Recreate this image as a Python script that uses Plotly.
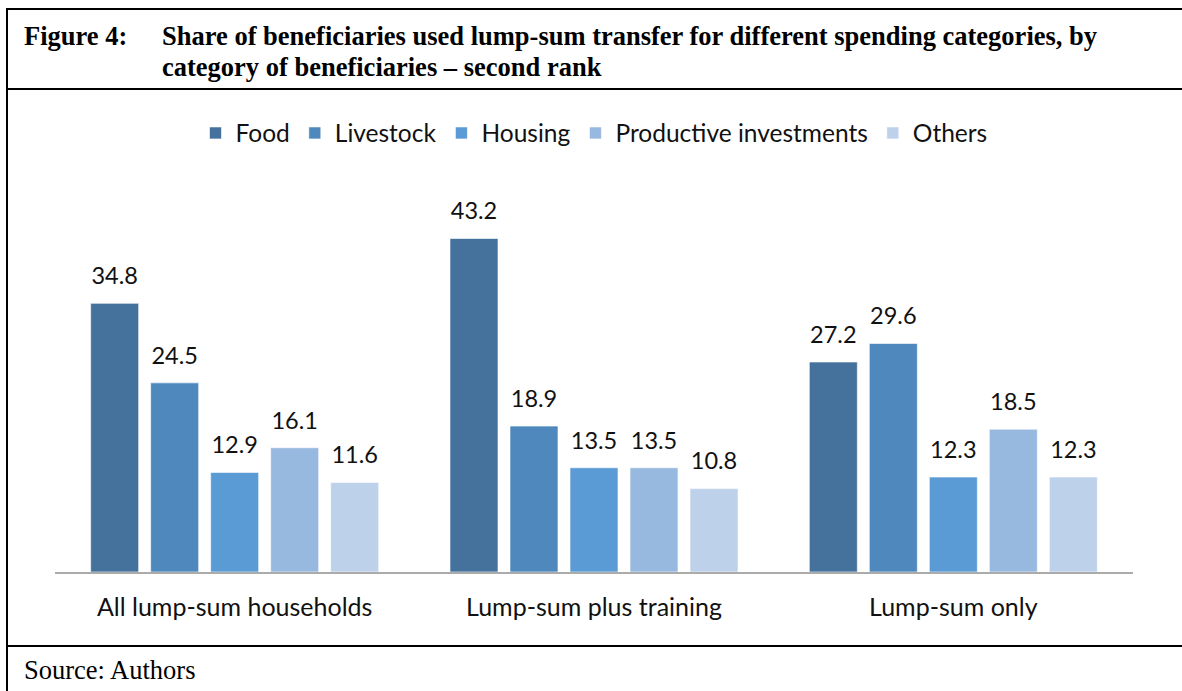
import plotly.graph_objects as go

# data
groups = ["All lump-sum households", "Lump-sum plus training", "Lump-sum only"]
series = ["Food", "Livestock", "Housing", "Productive investments", "Others"]
food = [34.8, 43.2, 27.2]
livestock = [24.5, 18.9, 29.6]
housing = [12.9, 13.5, 12.3]
productive = [16.1, 13.5, 18.5]
others = [11.6, 10.8, 12.3]
values = [food, livestock, housing, productive, others]
colors = ["#44729D", "#4E88BD", "#5B9BD5", "#98B9DF", "#BDD1EA"]

# page geometry (pixels)
W, H = 1182, 691
ML, MR, MT, MB = 55, 49, 186, 119
PW = W - ML - MR
PH = H - MT - MB
Y_MAX = 50
px_per_unit = PH / Y_MAX
LABEL_LIFT = 25  # px between bar top and label centre


def fx(px):
    return (px - ML) / PW


def fy(py):
    return (H - MB - py) / PH


fig = go.Figure()
for name, vals, col in zip(series, values, colors):
    fig.add_trace(go.Bar(
        x=groups, y=vals, name=name, marker_color=col,
        marker_line=dict(color="rgba(255,255,255,0.6)", width=1),
        offsetgroup=name, hoverinfo="skip",
    ))
# value labels, drawn on a shifted overlay axis
for name, vals in zip(series, values):
    fig.add_trace(go.Scatter(
        x=groups, y=vals, mode="text", text=[f"{v:.1f}" for v in vals],
        textposition="middle center", offsetgroup=name, yaxis="y2",
        textfont=dict(family="Lato", size=23.5, color="#111111"),
        showlegend=False, hoverinfo="skip", cliponaxis=False,
    ))

lift = LABEL_LIFT / px_per_unit
line = dict(color="black", width=2)
shapes = [
    dict(type="line", xref="paper", yref="paper", x0=fx(7), x1=fx(7), y0=fy(8), y1=fy(H), line=line),
    dict(type="line", xref="paper", yref="paper", x0=fx(6), x1=fx(W), y0=fy(9), y1=fy(9), line=line),
    dict(type="line", xref="paper", yref="paper", x0=fx(6), x1=fx(W), y0=fy(89), y1=fy(89), line=line),
    dict(type="line", xref="paper", yref="paper", x0=fx(6), x1=fx(W), y0=fy(646), y1=fy(646), line=line),
]
serif = dict(family="Liberation Serif", size=26.5, color="black")
annotations = [
    dict(text="<b>Figure 4:</b>", x=fx(22), y=fy(36), xref="paper", yref="paper",
         xanchor="left", yanchor="middle", showarrow=False, font=serif),
    dict(text="<b>Share of beneficiaries used lump-sum transfer for different spending categories, by</b>",
         x=fx(160), y=fy(36), xref="paper", yref="paper",
         xanchor="left", yanchor="middle", showarrow=False, font=serif),
    dict(text="<b>category of beneficiaries \u2013 second rank</b>",
         x=fx(160), y=fy(67), xref="paper", yref="paper",
         xanchor="left", yanchor="middle", showarrow=False, font=serif),
    dict(text="Source: Authors", x=fx(22), y=fy(670), xref="paper", yref="paper",
         xanchor="left", yanchor="middle", showarrow=False, font=serif),
]

fig.update_layout(
    width=W, height=H,
    margin=dict(l=ML, r=MR, t=MT, b=MB, autoexpand=False),
    paper_bgcolor="white", plot_bgcolor="white",
    barmode="group", bargap=0.165, bargroupgap=0.2,
    scattermode="group", scattergap=0.165,
    font=dict(family="Lato", size=24, color="#111111"),
    legend=dict(orientation="h", x=0.5, xanchor="center", y=fy(133), yanchor="middle",
                font=dict(family="Lato", size=24.5, color="#111111"), traceorder="normal"),
    xaxis=dict(showline=True, linecolor="#ABABAB", linewidth=2, ticks="",
               ticklabelstandoff=12, tickfont=dict(family="Lato", size=25, color="#111111")),
    yaxis=dict(range=[0, Y_MAX], visible=False),
    yaxis2=dict(range=[-lift, Y_MAX - lift], overlaying="y", visible=False),
    shapes=shapes, annotations=annotations,
)
fig.write_html(
    "out.html",
    config={"displayModeBar": False, "staticPlot": True},
    post_script=(
        "document.body.style.margin='0px';"
        "document.body.style.overflow='hidden';"
        "document.documentElement.style.overflow='hidden';"
    ),
)
